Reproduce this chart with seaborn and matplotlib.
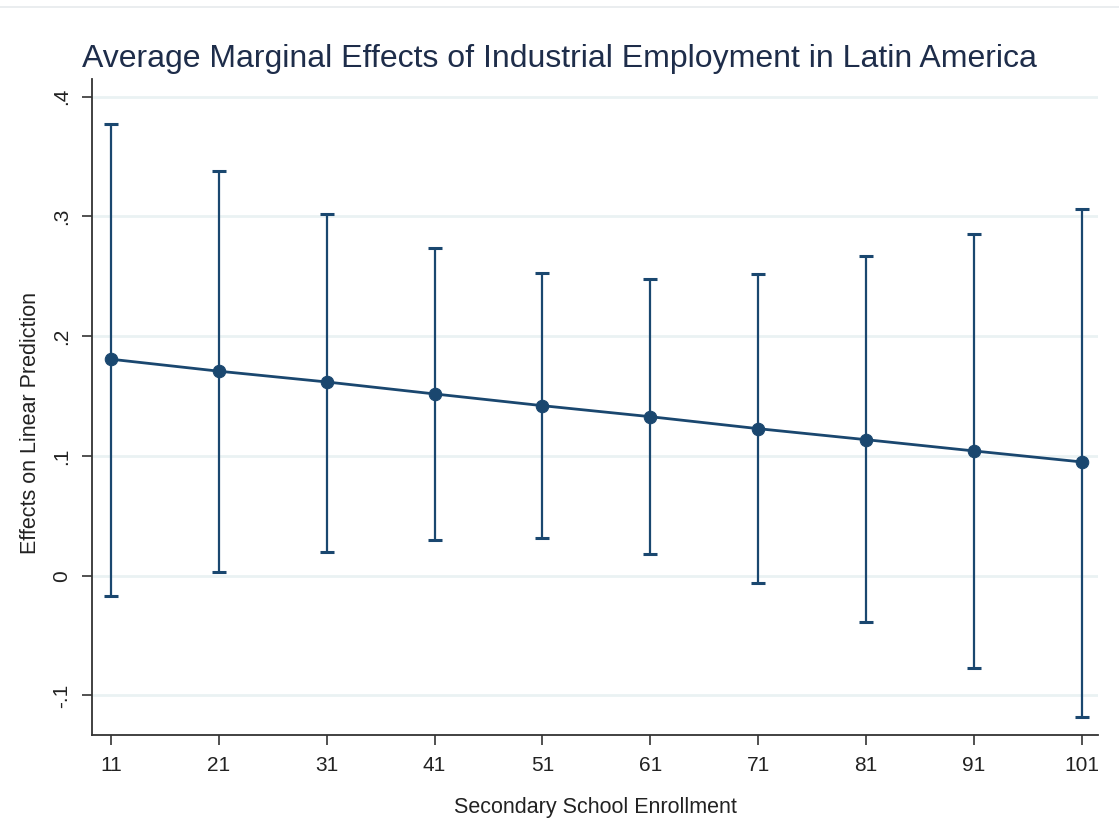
import matplotlib
matplotlib.use("Agg")
import matplotlib.pyplot as plt
import seaborn as sns
import pandas as pd
from matplotlib.lines import Line2D

# Marginal effects at each level of secondary school enrollment
enrollment = [11, 21, 31, 41, 51, 61, 71, 81, 91, 101]
effect = [0.1808, 0.1708, 0.1618, 0.1518, 0.1420, 0.1328, 0.1228, 0.1136, 0.1042, 0.0950]
ci_upper = [0.3771, 0.3381, 0.3024, 0.2735, 0.2531, 0.2479, 0.2523, 0.2668, 0.2855, 0.3066]
ci_lower = [-0.0167, 0.0033, 0.0200, 0.0301, 0.0312, 0.0181, -0.0064, -0.0389, -0.0769, -0.1181]

y_ticks = [-0.1, 0.0, 0.1, 0.2, 0.3, 0.4]
y_tick_labels = ["-.1", "0", ".1", ".2", ".3", ".4"]

df = pd.DataFrame({"enrollment": enrollment, "effect": effect,
                   "lo": ci_lower, "hi": ci_upper})

navy = "#1a476f"
grid_col = "#eaf2f3"

sns.set_style("white")
plt.rcParams["font.family"] = ["Liberation Sans", "DejaVu Sans"]

fig = plt.figure(figsize=(11.19, 8.30), dpi=100)
ax = fig.add_axes([0.0822, 0.1145, 0.8990, 0.7903])

# confidence intervals with caps
ax.errorbar(df["enrollment"], df["effect"],
            yerr=[df["effect"] - df["lo"], df["hi"] - df["effect"]],
            fmt="none", ecolor=navy, elinewidth=1.6, capsize=5, capthick=2.2, zorder=2)

sns.lineplot(data=df, x="enrollment", y="effect", ax=ax, color=navy, lw=2.0,
             marker="o", markersize=9, markeredgecolor=navy, zorder=3)

ax.set_xlim(9.24, 102.5)
ax.set_ylim(-0.133, 0.4148)

ax.set_yticks(y_ticks)
ax.set_yticklabels(y_tick_labels, rotation=90, va="center", fontsize=15, color="#222222")
ax.set_xticks(enrollment)
ax.set_xticklabels([str(v) for v in enrollment], fontsize=15, color="#222222")

ax.grid(axis="y", color=grid_col, lw=2)
ax.grid(axis="x", visible=False)
ax.set_axisbelow(True)

for s in ["top", "right"]:
    ax.spines[s].set_visible(False)
for s in ["left", "bottom"]:
    ax.spines[s].set_color("#333333")
    ax.spines[s].set_linewidth(1.3)

ax.tick_params(axis="both", direction="out", length=7, width=1.2, color="#333333",
               left=True, bottom=True, pad=8)

ax.set_xlabel("Secondary School Enrollment", fontsize=15.5, color="#222222", labelpad=16)
ax.set_ylabel("Effects on Linear Prediction", fontsize=15.5, color="#222222")
ax.yaxis.set_label_coords(-0.051, 0.476)
fig.suptitle("Average Marginal Effects of Industrial Employment in Latin America",
             x=0.5, y=0.911, va="bottom", fontsize=23, color="#1e2d4a")

fig.add_artist(Line2D([0, 1], [0.9915, 0.9915], color="#e6eaec", lw=1.2,
                      transform=fig.transFigure))

fig.savefig("out.png", dpi=100)
